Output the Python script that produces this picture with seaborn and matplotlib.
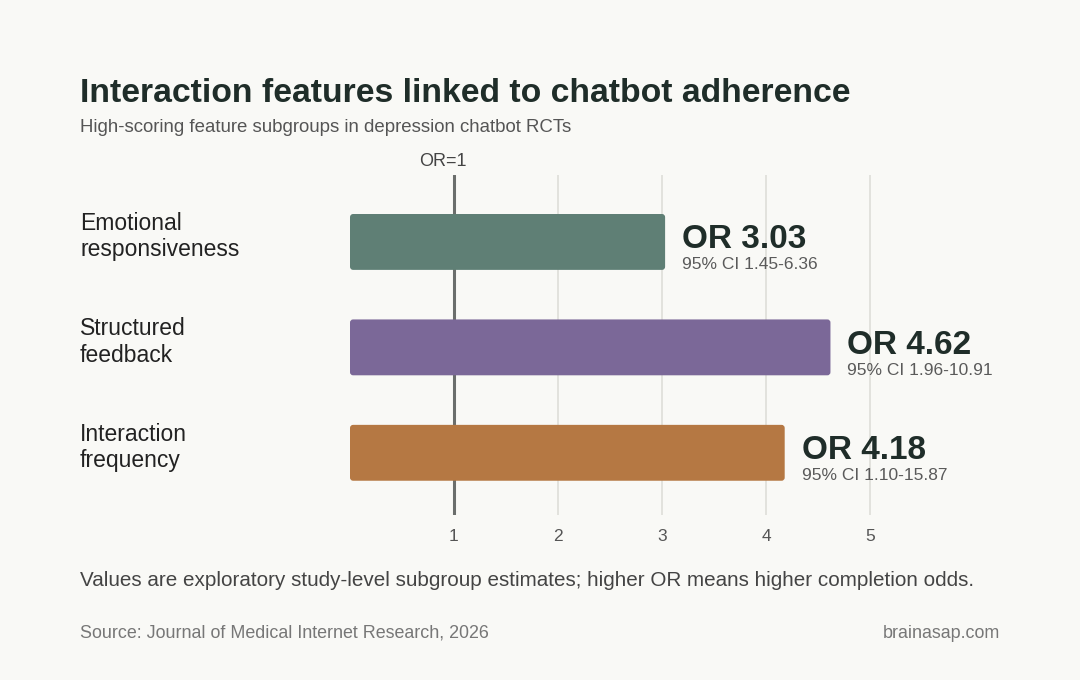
import matplotlib
matplotlib.use("Agg")
import matplotlib.pyplot as plt
import matplotlib.transforms as mtransforms
from matplotlib.patches import FancyBboxPatch
import seaborn as sns

# data
features = ["Emotional\nresponsiveness", "Structured\nfeedback", "Interaction\nfrequency"]
odds_ratios = [3.03, 4.62, 4.18]
ci_low = [1.45, 1.96, 1.10]
ci_high = [6.36, 10.91, 15.87]
colors = ["#5f7f75", "#7b6898", "#b57843"]
xticks = [1, 2, 3, 4, 5]

bg = "#f9f9f6"
sns.set_theme(style="white")
plt.rcParams["font.family"] = ["Liberation Sans", "DejaVu Sans"]

fig = plt.figure(figsize=(10.8, 6.8), dpi=100, facecolor=bg)
ax = fig.add_axes([350 / 1080, 1 - 515 / 680, 0.5296, 0.5])
ax.set_facecolor(bg)

sns.barplot(x=odds_ratios, y=features, hue=features, palette=colors,
            saturation=1, legend=False, orient="h", width=0.53, ax=ax)

# swap the square bars for slightly rounded ones
for p in list(ax.patches):
    x0, y0, w, h = p.get_x(), p.get_y(), p.get_width(), p.get_height()
    rb = FancyBboxPatch((x0, y0), w, h, boxstyle="round,pad=0,rounding_size=0.03",
                        mutation_aspect=1.0, facecolor=p.get_facecolor(),
                        edgecolor="none", zorder=3)
    p.remove()
    ax.add_patch(rb)

ax.set_xlim(0, 5.5)
ax.set_ylim(2.59, -0.635)

for t in xticks[1:]:
    ax.axvline(t, color="#e0e0db", lw=1.3, zorder=1)
ax.axvline(1, color="#6b6e6c", lw=2.2, zorder=2)
ax.text(0.89, -0.68, "OR=1", ha="center", va="bottom", fontsize=13,
        color="#444444")

ax.set_xticks(xticks)
ax.set_xticklabels([str(t) for t in xticks])
ax.tick_params(axis="x", length=0, pad=10, labelsize=12.5, labelcolor="#555555")
ax.set_yticks([])
ax.set_xlabel("")
ax.set_ylabel("")
for s in ax.spines.values():
    s.set_visible(False)

# category labels at the left margin
lab_tr = mtransforms.blended_transform_factory(fig.transFigure, ax.transData)
for i, name in enumerate(features):
    ax.text(80 / 1080, i - 0.05, name, transform=lab_tr, ha="left", va="center",
            fontsize=16.5, color="#222222", linespacing=1.2, clip_on=False)

# value annotations
off = mtransforms.offset_copy(ax.transData, fig=fig, x=17 * 0.72, y=0, units="points")
for i, (v, lo, hi) in enumerate(zip(odds_ratios, ci_low, ci_high)):
    ax.text(v, i - 0.02, f"OR {v:.2f}", transform=off, ha="left", va="center",
            fontsize=24, fontweight="bold", color="#1f2d29", clip_on=False)
    ax.text(v, i + 0.215, f"95% CI {lo:.2f}-{hi:.2f}", transform=off, ha="left",
            va="center", fontsize=12.5, color="#5a5a5a", clip_on=False)

fig.text(80 / 1080, 1 - 93 / 680, "Interaction features linked to chatbot adherence",
         ha="left", va="center", fontsize=24.3, fontweight="bold", color="#1f2d29")
fig.text(80 / 1080, 1 - 128 / 680, "High-scoring feature subgroups in depression chatbot RCTs",
         ha="left", va="center", fontsize=13.4, color="#555555")
fig.text(80 / 1080, 1 - 580 / 680,
         "Values are exploratory study-level subgroup estimates; higher OR means higher completion odds.",
         ha="left", va="center", fontsize=14.9, color="#444444")
fig.text(80 / 1080, 1 - 633 / 680, "Source: Journal of Medical Internet Research, 2026",
         ha="left", va="center", fontsize=12.9, color="#777777")
fig.text(1000 / 1080, 1 - 633 / 680, "brainasap.com",
         ha="right", va="center", fontsize=12.9, color="#777777")

fig.savefig("out.png", dpi=100, facecolor=bg)
